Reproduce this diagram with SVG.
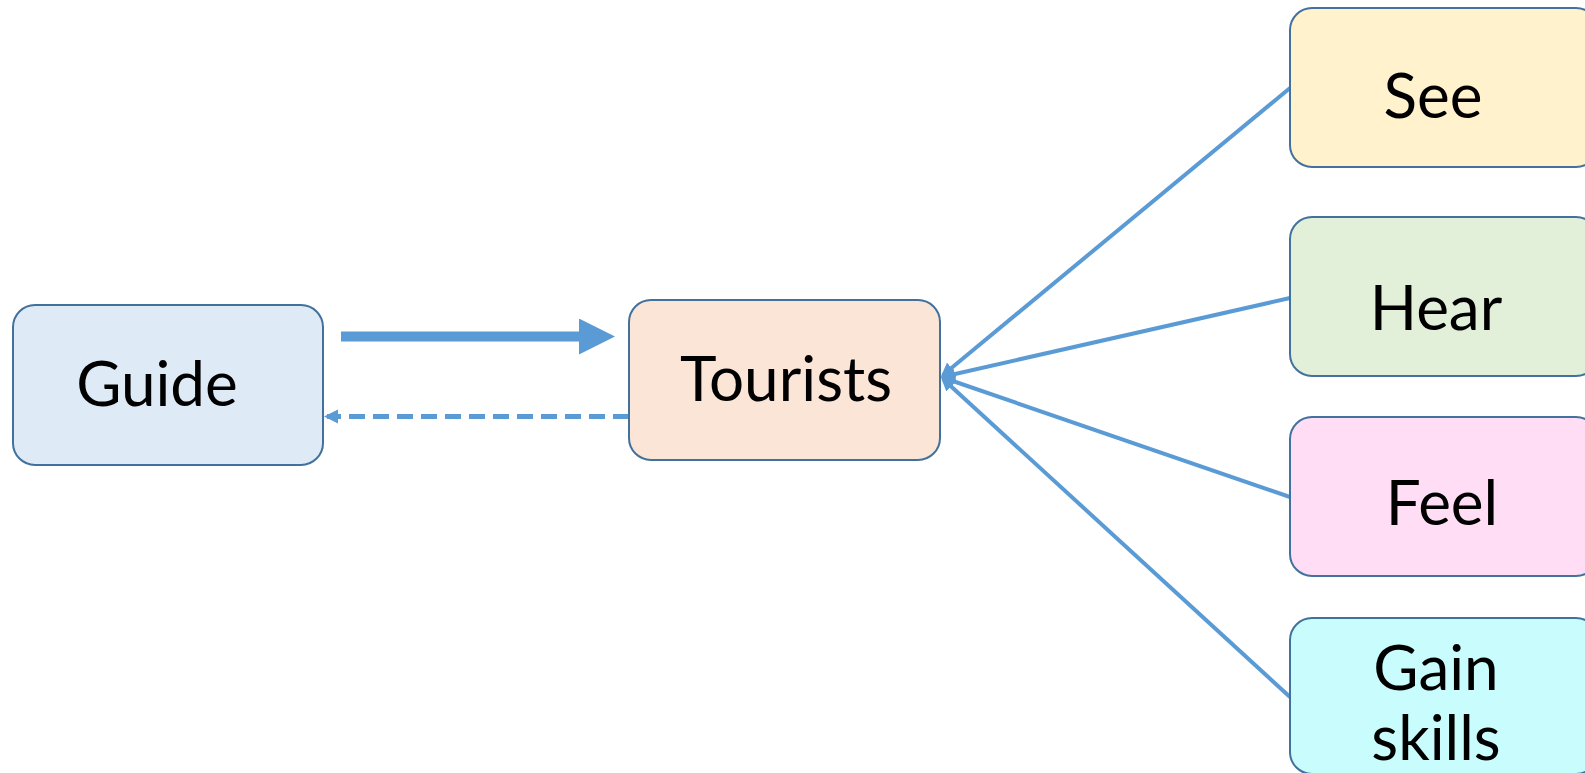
<svg xmlns="http://www.w3.org/2000/svg" width="1585" height="773" viewBox="0 0 1585 773">
<style>
.box{stroke:#41719C;stroke-width:2}
.lbl{font-family:Lato,"Noto Sans",sans-serif;font-size:62px;fill:#000;text-anchor:middle}
.ln{stroke:#5B9BD5;fill:none}
</style>
<defs>
<marker id="big" markerUnits="userSpaceOnUse" markerWidth="40" markerHeight="40" refX="1" refY="18" orient="auto">
<path d="M0,0 L36,18 L0,36 Z" fill="#5B9BD5"/>
</marker>
<marker id="small" markerUnits="userSpaceOnUse" markerWidth="20" markerHeight="20" refX="11" refY="7" orient="auto">
<path d="M0,0 L14,7 L0,14 Z" fill="#5B9BD5"/>
</marker>
</defs>
<rect width="1585" height="773" fill="#fff"/>
<g id="connectors">
<line class="ln" x1="341" y1="336.5" x2="580" y2="336.5" stroke-width="10" marker-end="url(#big)"/>
<line class="ln" x1="629" y1="416.5" x2="327" y2="416.5" stroke-width="5" stroke-dasharray="16 8" marker-end="url(#small)"/>
<line class="ln" x1="1290" y1="88" x2="943" y2="375" stroke-width="4" marker-end="url(#small)"/>
<line class="ln" x1="1290" y1="298" x2="944" y2="376.5" stroke-width="4" marker-end="url(#small)"/>
<line class="ln" x1="1290" y1="497" x2="944" y2="378" stroke-width="4" marker-end="url(#small)"/>
<line class="ln" x1="1290" y1="697" x2="943" y2="379" stroke-width="4" marker-end="url(#small)"/>
</g>
<g id="guide">
<rect class="box" x="13" y="305" width="310" height="160" rx="22" fill="#DEEBF7"/>
<text class="lbl" x="157" y="406">Guide</text>
</g>
<g id="tourists">
<rect class="box" x="629" y="300" width="311" height="160" rx="22" fill="#FBE5D6"/>
<text class="lbl" x="786" y="401">Tourists</text>
</g>
<g id="see">
<rect class="box" x="1290" y="8" width="308" height="159" rx="22" fill="#FFF2CC"/>
<text class="lbl" x="1433" y="118">See</text>
</g>
<g id="hear">
<rect class="box" x="1290" y="217" width="308" height="159" rx="22" fill="#E2F0D9"/>
<text class="lbl" x="1436" y="330">Hear</text>
</g>
<g id="feel">
<rect class="box" x="1290" y="417" width="308" height="159" rx="22" fill="#FFDDF4"/>
<text class="lbl" x="1442" y="525">Feel</text>
</g>
<g id="gain">
<rect class="box" x="1290" y="618" width="308" height="156" rx="22" fill="#C9FCFC"/>
<text class="lbl" x="1436" y="690">Gain</text>
<text class="lbl" x="1436" y="760">skills</text>
</g>
</svg>
